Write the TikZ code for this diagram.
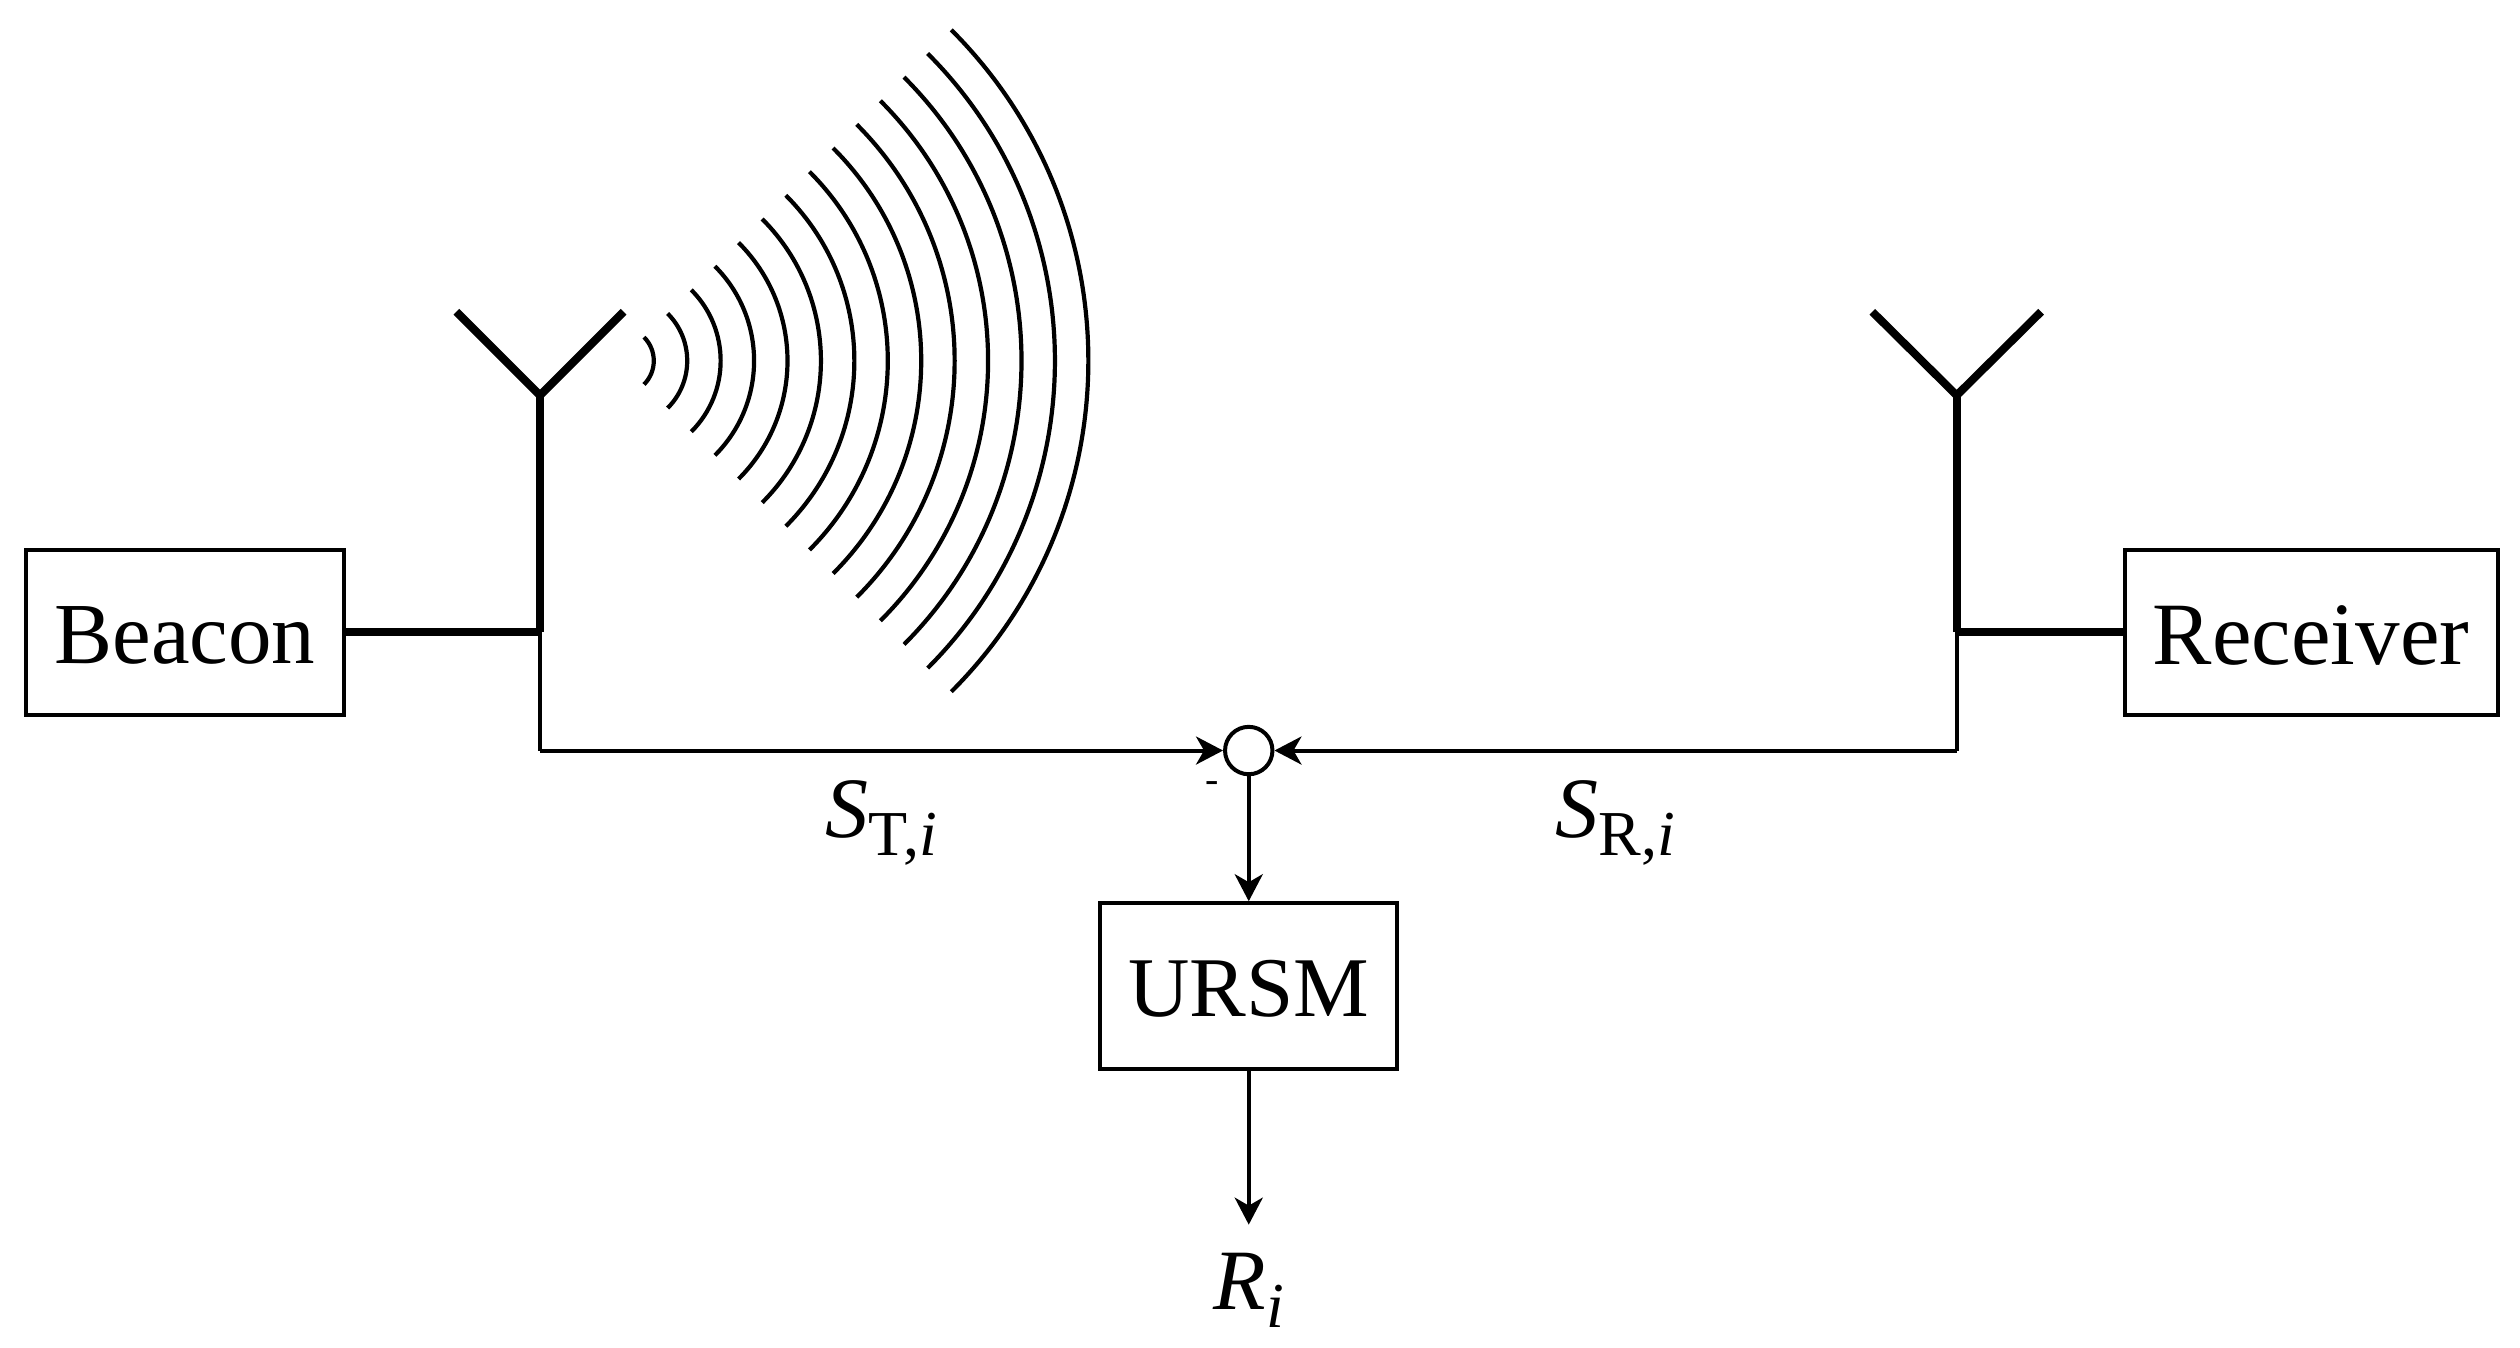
\documentclass[tikz,border=0pt]{standalone}
\usepackage{fontspec}
\setmainfont{Liberation Serif}
\usetikzlibrary{arrows.meta}
\newcommand{\lbl}{\fontsize{43.5}{50}\selectfont}
\newcommand{\mlbl}{\fontsize{43}{48}\selectfont}
\newcommand{\subs}[1]{\raisebox{-9pt}{\fontsize{32}{36}\selectfont #1}}
\newcommand{\lowered}[1]{\raisebox{-1.6pt}[\height][\depth]{#1}}
\tikzset{
  x=0.80357pt, y=0.80357pt,
  blockbox/.style={draw, line width=2pt, inner sep=0pt, font=\lbl, anchor=center},
  thickln/.style={line width=4pt},
  thinln/.style={line width=2pt},
  sigarrow/.style={line width=2pt, -{Stealth[length=13.5pt,width=14pt,inset=4pt]}},
  wave/.style={line width=2.1pt},
  sumnode/.style={draw, circle, line width=2pt, inner sep=0pt, minimum size=29.5*0.80357pt},
  textlabel/.style={font=\mlbl, inner sep=0pt, anchor=base}
}
\begin{document}
\begin{tikzpicture}
\useasboundingbox (0,0) rectangle (1568,-838.75);
% blocks
\node[blockbox, minimum width=198*0.80357pt, minimum height=103*0.80357pt] (beacon) at (115,-393.5) {\lowered{Beacon}};
\node[blockbox, minimum width=232*0.80357pt, minimum height=103*0.80357pt] (receiver) at (1438,-393.5) {\fontsize{44.5}{50}\selectfont\lowered{Receiver}};
\node[blockbox, minimum width=185*0.80357pt, minimum height=103*0.80357pt] (ursm) at (777,-613.5) {\fontsize{42.5}{50}\selectfont\lowered{URSM}};
\node[sumnode] (sum) at (777,-467) {};
% antenna points
\coordinate (lfeed) at (336,-393.5);
\coordinate (lvert) at (336,-246);
\coordinate (larmA) at (284,-194);
\coordinate (larmB) at (388,-194);
\coordinate (lbend) at (336,-467);
\coordinate (rfeed) at (1217.5,-393.5);
\coordinate (rvert) at (1217.5,-246);
\coordinate (rarmA) at (1165,-194);
\coordinate (rarmB) at (1270,-194);
\coordinate (rbend) at (1217.5,-467);
\coordinate (wavec) at (386,-224.5);
\coordinate (rout) at (777,-762);
% thin signal lines
\draw[thinln] (lfeed) -- (lbend);
\draw[thinln] (rfeed) -- (rbend);
\draw[sigarrow] (lbend) -- (sum.west);
\draw[sigarrow] (rbend) -- (sum.east);
\draw[sigarrow] (sum.south) -- (ursm.north);
\draw[sigarrow] (ursm.south) -- (rout);
% antennas and feeds
\draw[thickln, line join=miter] (larmA) -- (lvert) -- (larmB);
\draw[thickln] (lvert) -- (lfeed);
\draw[thickln] (beacon.east) -- (lfeed);
\draw[thickln, line join=miter] (rarmA) -- (rvert) -- (rarmB);
\draw[thickln] (rvert) -- (rfeed);
\draw[thickln] (receiver.west) -- (rfeed);
% wave fronts
\foreach \k in {1,...,14}{
  \pgfmathsetmacro{\r}{\k*20.8}
  \draw[wave] ([shift={(-45:\r)}]wavec) arc[start angle=-45,end angle=45,radius=\r*0.80357pt];
}
% labels
\node[textlabel] (st) at (548.5,-521) {\textit{S}\subs{T,\textit{i}}};
\node[textlabel] (sr) at (1005,-521) {\textit{S}\subs{R,\textit{i}}};
\node[textlabel] (ri) at (777,-815) {\textit{R}\subs{\textit{i}}};
\node[inner sep=0pt, font=\fontsize{20}{22}\selectfont] (minus) at (754,-490) {-};
\end{tikzpicture}
\end{document}
